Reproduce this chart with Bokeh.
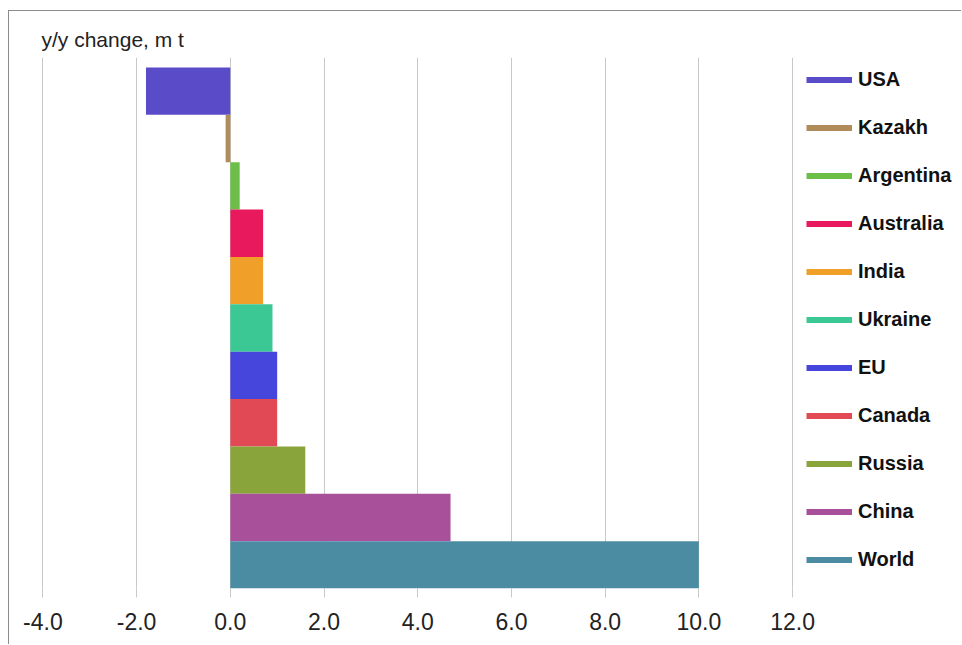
from bokeh.plotting import figure
from bokeh.models import (ColumnDataSource, Range1d, FixedTicker, PrintfTickFormatter,
                          Legend, LegendItem)
from bokeh.embed import file_html
from bokeh.resources import INLINE

# Year-on-year change in production, million tonnes (top to bottom)
countries = ["USA", "Kazakh", "Argentina", "Australia", "India", "Ukraine",
             "EU", "Canada", "Russia", "China", "World"]
changes = [-1.8, -0.1, 0.2, 0.7, 0.7, 0.9, 1.0, 1.0, 1.6, 4.7, 10.0]
colors = ["#5a4bc8", "#b08c5a", "#6cbe48", "#e8195c", "#f0a028", "#3cc894",
          "#4646dc", "#e14a55", "#8aa43c", "#a8509a", "#4b8ca2"]
x_ticks = [-4, -2, 0, 2, 4, 6, 8, 10, 12]

n = len(countries)
positions = [n - 1 - i for i in range(n)]  # first country on top

src = ColumnDataSource(dict(country=countries, change=changes,
                            color=colors, pos=positions))

# the frame reaches the right edge; the strip beyond 12 holds the legend
p = figure(width=953, height=634, output_backend="svg", toolbar_location=None,
           x_range=Range1d(-4.03, 15.627), y_range=Range1d(-0.5, 10.71),
           min_border_left=32, min_border_top=46, min_border_right=0,
           min_border_bottom=57)
p.styles = {"margin-left": "8px", "margin-top": "10px",
            "border-left": "1px solid #8c8c8c", "border-top": "1px solid #8c8c8c"}

p.hbar(y="pos", left=0, right="change", height=1.0, fill_color="color",
       line_color=None, source=src)

# title
p.title.text = "y/y change, m t"
p.title.align = "left"
p.title.text_font = "Liberation Sans"
p.title.text_font_size = "21px"
p.title.text_font_style = "normal"
p.title.text_color = "#222222"
p.title.standoff = 14

# axes and grid
p.yaxis.visible = False
p.ygrid.grid_line_color = None
p.xgrid.grid_line_color = "#c8c8c8"
p.xaxis.ticker = FixedTicker(ticks=x_ticks)
p.xaxis.formatter = PrintfTickFormatter(format="%.1f")
p.xaxis.axis_line_color = None
p.xaxis.major_tick_in = 0
p.xaxis.major_tick_out = 9
p.xaxis.major_tick_line_color = "#c8c8c8"
p.xaxis.minor_tick_line_color = None
p.xaxis.major_label_standoff = 15
p.xaxis.major_label_text_font = "Liberation Sans"
p.xaxis.major_label_text_font_size = "23px"
p.xaxis.major_label_text_color = "#222222"
p.outline_line_color = None

# legend swatches: thick line proxies that draw nothing in the frame
nan = float("nan")
items = []
for name, col in zip(countries, colors):
    r = p.line(x=[nan], y=[nan], line_color=col, line_width=6)
    items.append(LegendItem(label=name, renderers=[r]))

legend = Legend(items=items, location=(765, 17.5), margin=0, padding=0,
                glyph_width=46, glyph_height=23, label_height=23, spacing=25,
                label_standoff=6, label_text_font="Liberation Sans",
                label_text_font_style="bold", label_text_font_size="20px",
                label_text_color="#111111", background_fill_alpha=0,
                border_line_color=None)
p.add_layout(legend)

open("out.html", "w").write(file_html(p, INLINE))
